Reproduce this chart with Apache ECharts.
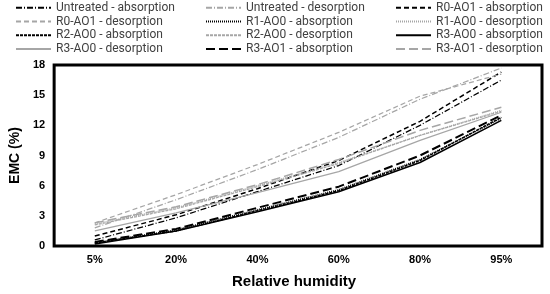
<!DOCTYPE html>
<html><head><meta charset="utf-8">
<script src="https://cdn.jsdelivr.net/npm/echarts@6/dist/echarts.min.js"></script>
<style>html,body{margin:0;padding:0;background:#fff}#c{width:550px;height:294px}</style>
</head><body><div id="c"></div>
<script>
const categories = ['5%', '20%', '40%', '60%', '80%', '95%'];
const yTicks = [0, 3, 6, 9, 12, 15, 18];
const seriesNames = [
  'Untreated - absorption', 'Untreated - desorption', 'R0-AO1 - absorption',
  'R0-AO1 - desorption', 'R1-AO0 - absorption', 'R1-AO0 - desorption',
  'R2-AO0 - absorption', 'R2-AO0 - desorption', 'R3-AO0 - absorption',
  'R3-AO0 - desorption', 'R3-AO1 - absorption', 'R3-AO1 - desorption'
];
const untreatedAbs = [0.6, 2.8, 5.4, 8.0, 12.0, 16.5];
const untreatedDes = [1.8, 4.6, 7.6, 10.8, 14.6, 17.7];
const r0ao1Abs = [1.0, 3.1, 5.7, 8.5, 12.4, 17.3];
const r0ao1Des = [2.3, 5.1, 8.1, 11.3, 14.9, 17.1];
const r1ao0Abs = [0.3, 1.6, 3.6, 5.6, 8.6, 12.7];
const r1ao0Des = [2.2, 3.8, 6.0, 8.3, 11.0, 13.5];
const r2ao0Abs = [0.3, 1.5, 3.5, 5.5, 8.5, 12.8];
const r2ao0Des = [2.1, 3.7, 5.9, 8.2, 11.0, 13.4];
const r3ao0Abs = [0.2, 1.5, 3.4, 5.4, 8.3, 12.5];
const r3ao0Des = [1.5, 3.3, 5.3, 7.4, 10.5, 13.3];
const r3ao1Abs = [0.4, 1.7, 3.8, 5.9, 9.0, 13.0];
const r3ao1Des = [2.3, 3.9, 6.1, 8.6, 11.5, 13.8];
const seriesData = [untreatedAbs, untreatedDes, r0ao1Abs, r0ao1Des, r1ao0Abs, r1ao0Des,
  r2ao0Abs, r2ao0Des, r3ao0Abs, r3ao0Des, r3ao1Abs, r3ao1Des];

const BLK = '#000000', GRY = '#a6a6a6';
const styles = [
  {c: BLK, t: [6, 2, 1, 2], w: 1.25},
  {c: GRY, t: [6, 2, 1, 2], w: 1.25},
  {c: BLK, t: [5, 3], w: 1.5},
  {c: GRY, t: [5, 3], w: 1.25},
  {c: BLK, t: [1, 1], w: 1.5},
  {c: GRY, t: [1, 1], w: 1.25},
  {c: BLK, t: [3, 1], w: 1.5},
  {c: GRY, t: [3, 1], w: 1.25},
  {c: BLK, t: 'solid', w: 1.5},
  {c: GRY, t: 'solid', w: 1.25},
  {c: BLK, t: [9, 4], w: 2},
  {c: GRY, t: [9, 4], w: 1.5}
];

const series = seriesNames.map((n, i) => ({
  name: n, type: 'line', data: seriesData[i], symbol: 'none',
  lineStyle: {color: styles[i].c, type: styles[i].t, width: styles[i].w},
  itemStyle: {color: styles[i].c}, animation: false
}));

const legendFont = {fontFamily: 'Roboto', fontSize: 12, color: '#404040'};
const cols = [[0,3,6,9],[1,4,7,10],[2,5,8,11]];
const colX = [15, 205, 395];
const legends = cols.map((idx, k) => ({
  orient: 'vertical', left: colX[k], top: 1, itemWidth: 35, itemHeight: 10, itemGap: 0,
  padding: 0, data: idx.map(i => seriesNames[i]),
  itemStyle: {opacity: 0, borderWidth: 0},
  textStyle: Object.assign({lineHeight: 13.7, padding: [0, 0, 0, 0]}, legendFont)
}));

const chart = echarts.init(document.getElementById('c'), null, {renderer: 'canvas'});
chart.setOption({
  animation: false,
  legend: legends,
  grid: {left: 45, right: 8, top: 65, bottom: 42, show: true, borderColor: '#000', borderWidth: 3, containLabel: false},
  xAxis: {
    type: 'category', data: categories, boundaryGap: true,
    axisLine: {show: false}, axisTick: {show: false},
    axisLabel: {fontFamily: 'Liberation Sans', fontWeight: 'bold', fontSize: 11, color: '#000', margin: 8},
    name: 'Relative humidity', nameLocation: 'middle', nameGap: 28,
    nameTextStyle: {fontFamily: 'Liberation Sans', fontWeight: 'bold', fontSize: 15, color: '#000', padding: [0, 8, 0, 0]}
  },
  yAxis: {
    type: 'value', min: yTicks[0], max: yTicks[yTicks.length - 1], interval: 3,
    axisLine: {show: false}, axisTick: {show: false}, splitLine: {show: false},
    axisLabel: {fontFamily: 'Liberation Sans', fontWeight: 'bold', fontSize: 11, color: '#000', margin: 9},
    name: 'EMC (%)', nameLocation: 'middle', nameGap: 25, nameRotate: 90,
    nameTextStyle: {fontFamily: 'Liberation Sans', fontWeight: 'bold', fontSize: 14, color: '#000'}
  },
  series: series
});
</script></body></html>
